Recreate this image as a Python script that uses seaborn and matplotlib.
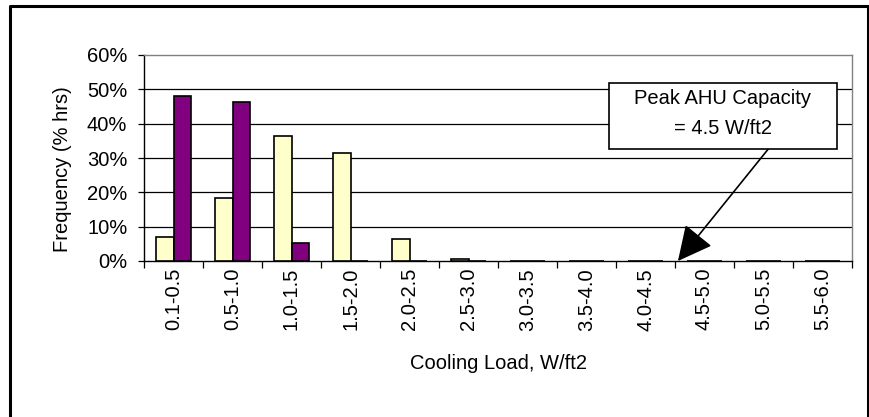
import matplotlib
matplotlib.use("Agg")
import matplotlib.pyplot as plt
import seaborn as sns
import pandas as pd
from matplotlib.patches import Rectangle
from matplotlib.lines import Line2D
from matplotlib.ticker import FuncFormatter, FixedLocator

categories = ["0.1-0.5", "0.5-1.0", "1.0-1.5", "1.5-2.0", "2.0-2.5", "2.5-3.0",
              "3.0-3.5", "3.5-4.0", "4.0-4.5", "4.5-5.0", "5.0-5.5", "5.5-6.0"]
series_a = [7.0, 18.4, 36.5, 31.4, 6.4, 0.6, 0, 0, 0, 0, 0, 0]
series_b = [48.0, 46.2, 5.2, 0, 0, 0, 0, 0, 0, 0, 0, 0]
series_names = ["Series A", "Series B"]
y_ticks = [0, 10, 20, 30, 40, 50, 60]

sns.set_theme(style="white")
plt.rcParams["font.family"] = ["Liberation Sans", "DejaVu Sans"]

df = pd.DataFrame({
    "Cooling Load": categories * 2,
    "Frequency": series_a + series_b,
    "Series": [series_names[0]] * len(categories) + [series_names[1]] * len(categories),
})

fig = plt.figure(figsize=(8.69, 4.17), dpi=100)
ax = fig.add_axes([144 / 869, 1 - 261 / 417, 708 / 869, 206 / 417])

sns.barplot(data=df, x="Cooling Load", y="Frequency", hue="Series",
            order=categories, hue_order=series_names,
            palette=["#FFFFCC", "#800080"], saturation=1, width=0.6, dodge=True,
            edgecolor="black", linewidth=1.2, legend=False, ax=ax, zorder=3)

ax.set_xlim(-0.5, len(categories) - 0.5)
ax.set_ylim(0, 60)
ax.set_yticks(y_ticks)
ax.yaxis.set_major_formatter(FuncFormatter(lambda v, p: f"{v:.0f}%"))
for t in y_ticks[1:-1]:
    ax.axhline(t, color="black", lw=0.9, zorder=1)

ax.tick_params(axis="y", which="major", direction="out", length=4, width=0.9,
               color="black", left=True, pad=8, labelsize=14.5, labelcolor="black")
ax.tick_params(axis="x", which="major", length=0, pad=5, labelsize=14.5,
               labelcolor="black", rotation=90)
ax.xaxis.set_minor_locator(FixedLocator([i - 0.5 for i in range(len(categories) + 1)]))
ax.tick_params(axis="x", which="minor", direction="out", length=5, width=0.9,
               color="black", bottom=True)

for side in ["left", "bottom"]:
    ax.spines[side].set_color("black")
    ax.spines[side].set_linewidth(1.0)
for side in ["top", "right"]:
    ax.spines[side].set_color("#808080")
    ax.spines[side].set_linewidth(1.0)
    ax.spines[side].set_visible(True)

ax.set_xlabel("Cooling Load, W/ft2", fontsize=14.5, color="black")
ax.set_ylabel("Frequency (% hrs)", fontsize=14.5, color="black")
ax.xaxis.set_label_coords(0.5, -0.45)
ax.yaxis.set_label_coords(-0.102, 0.447)

# Annotation box and arrow
ax.add_patch(Rectangle((7.38, 32.6), 11.25 - 7.38, 51.8 - 32.6, facecolor="white",
                       edgecolor="black", lw=1.2, zorder=6, clip_on=False))
ax.text(9.31, 47.4, "Peak AHU Capacity", ha="center", va="center", fontsize=14.5,
        color="black", zorder=7)
ax.text(9.31, 38.5, "= 4.5 W/ft2", ha="center", va="center", fontsize=14.5,
        color="black", zorder=7)
ax.annotate("", xy=(8.55, 0), xytext=(10.08, 32.6),
            arrowprops=dict(arrowstyle="-|>,head_length=0.9,head_width=0.45",
                            color="black", lw=1.2, shrinkA=0, shrinkB=0,
                            mutation_scale=24), zorder=5)

# Outer chart frame (left, top, right edges; bottom lies beyond the image)
fx0, fx1, fy1 = 9.5 / 869, 867.5 / 869, 1 - 5.5 / 417
fig.add_artist(Line2D([fx0, fx0, fx1, fx1], [0, fy1, fy1, 0],
                      transform=fig.transFigure, color="black", lw=2.2))

fig.savefig("out.png", dpi=100, facecolor="white")
